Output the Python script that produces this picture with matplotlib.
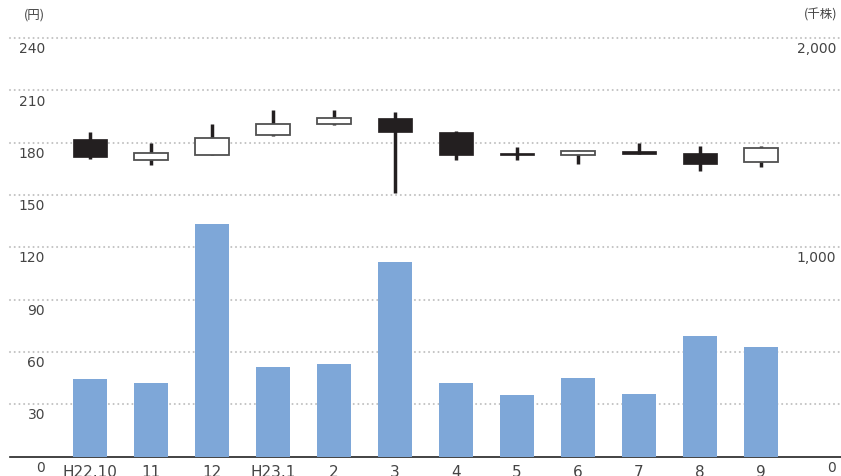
import matplotlib
matplotlib.use("Agg")
import matplotlib.pyplot as plt
from matplotlib.patches import Rectangle
from matplotlib.transforms import blended_transform_factory

plt.rcParams['font.family'] = ['DejaVu Sans', 'Noto Sans CJK JP']

# Monthly stock price (yen) and trading volume (thousand shares)
months = ["H22.10", "11", "12", "H23.1", "2", "3", "4", "5", "6", "7", "8", "9"]
opens = [182, 170, 173, 184.3, 191, 194, 186, 174.2, 173, 175, 174, 169]
highs = [186, 180, 191, 199, 199, 197.5, 187, 177.4, 175.7, 180, 178, 178]
lows = [170.5, 167, 173, 184, 190, 151, 170, 170, 168, 173.5, 164, 166]
closes = [172, 174, 183, 191, 194, 186, 173, 173, 175.2, 173.5, 168, 177]
volumes = [370, 351, 1111, 428, 442, 930, 351, 294, 375, 299, 576, 523]

price_ticks = [0, 30, 60, 90, 120, 150, 180, 210, 240]
volume_ticks = {0: "0", 120: "1,000", 240: "2,000"}

W, H = 841, 477
fig = plt.figure(figsize=(W / 100, H / 100), dpi=100)
ax = fig.add_axes([10 / W, (H - 457.5) / H, 831 / W, (457.5 - 39.2) / H])
ax.set_xlim(-1.311, 12.31)
ax.set_ylim(0, 240)
for s in ["left", "right", "top"]:
    ax.spines[s].set_visible(False)
ax.spines["bottom"].set_color("#222222")
ax.spines["bottom"].set_linewidth(1.2)
ax.spines["bottom"].set_zorder(6)
ax.set_xticks([])
ax.set_yticks([])

# dotted grid (round dots)
for v in price_ticks[1:]:
    ax.axhline(v, color="#c2c2c2", lw=1.5, ls=(0, (0.01, 2.25)),
               dash_capstyle="round", zorder=1, clip_on=False)

# volume bars on a second scale (0 - 2,000)
ax2 = ax.twinx()
ax2.set_ylim(0, 2000)
ax2.axis("off")
x = list(range(len(months)))
ax2.bar(x, volumes, width=0.55, color="#7ea7d8", zorder=3)

# candlesticks
bw = 0.55
for i in x:
    o, h, l, c = opens[i], highs[i], lows[i], closes[i]
    ax.plot([i, i], [l, h], color="#231f20", lw=2.5, solid_capstyle="butt", zorder=4)
    lo, hi = min(o, c), max(o, c)
    if c >= o:
        ax.add_patch(Rectangle((i - bw / 2, lo), bw, hi - lo, facecolor="white",
                               edgecolor="#505050", lw=1.3, zorder=5))
    else:
        ax.add_patch(Rectangle((i - bw / 2, lo), bw, hi - lo, facecolor="#231f20",
                               edgecolor="#231f20", lw=0.5, zorder=5))

# axis labels
tc = "#444444"
left = blended_transform_factory(fig.transFigure, ax.transData)
for v in price_ticks:
    ax.text(45 / W, v - 5.8, str(v), transform=left, ha="right", va="center",
            fontsize=10, color=tc, clip_on=False)
for v, lab in volume_ticks.items():
    ax.text(836 / W, v - 5.8, lab, transform=left, ha="right", va="center",
            fontsize=10, color=tc, clip_on=False)

for i, m in enumerate(months):
    ax.text(i, -4.3, m, ha="center", va="top", fontsize=11, color=tc, clip_on=False)

fig.text(34 / W, 1 - 15 / H, "(円)", ha="center", va="center", fontsize=9, color=tc,
         family=["Noto Sans CJK JP", "DejaVu Sans"])
fig.text(837 / W, 1 - 15 / H, "(千株)", ha="right", va="center", fontsize=9, color=tc,
         family=["Noto Sans CJK JP", "DejaVu Sans"])

fig.savefig("out.png", dpi=100)
